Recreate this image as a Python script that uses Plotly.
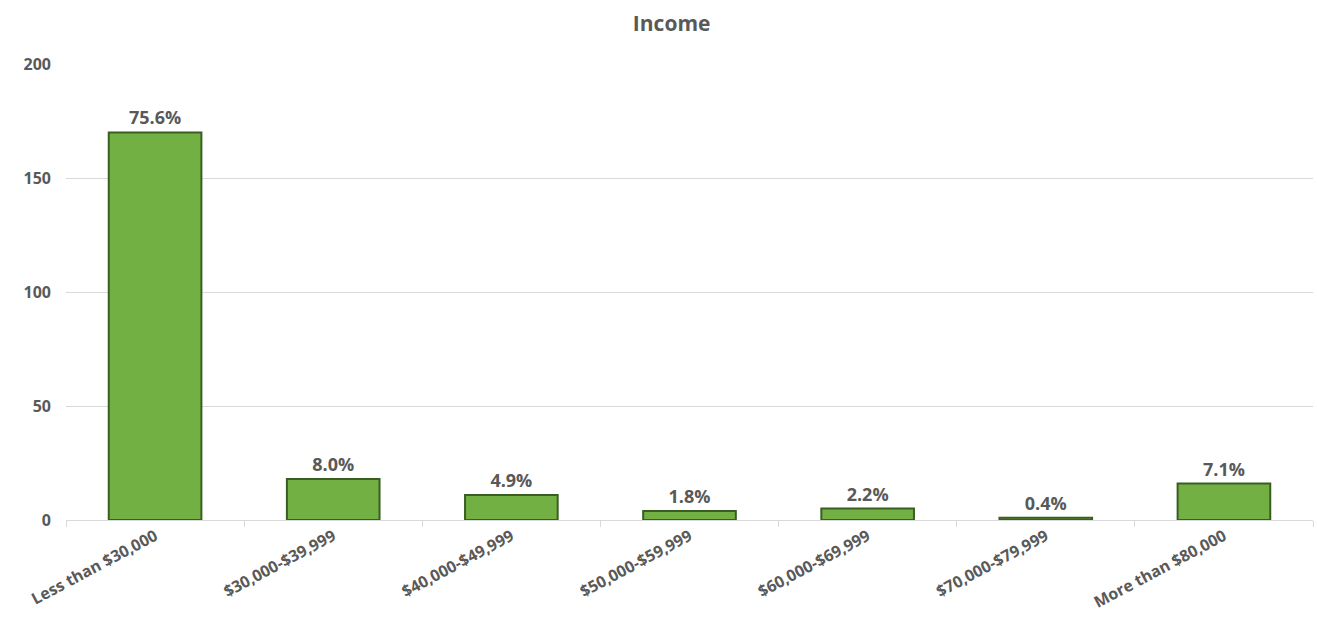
import plotly.graph_objects as go

# Household income survey responses
categories = [
    "Less than $30,000",
    "$30,000-$39,999",
    "$40,000-$49,999",
    "$50,000-$59,999",
    "$60,000-$69,999",
    "$70,000-$79,999",
    "More than $80,000",
]
counts = [170, 18, 11, 4, 5, 1, 16]
y_ticks = [0, 50, 100, 150, 200]

total = sum(counts)
pct_labels = [f"{100 * c / total:.1f}%" for c in counts]

font_family = "Open Sans, Lato, DejaVu Sans, sans-serif"
text_gray = "#595959"

fig = go.Figure()
fig.add_trace(
    go.Bar(
        x=categories,
        y=counts,
        text=pct_labels,
        textposition="outside",
        cliponaxis=False,
        textfont=dict(family=font_family, size=18, color=text_gray, weight="bold"),
        marker=dict(color="#72B043", line=dict(color="#3A5E22", width=2)),
        hoverinfo="x+y",
    )
)

fig.update_layout(
    width=1317,
    height=631,
    margin=dict(l=66, r=4, t=64, b=111),
    paper_bgcolor="white",
    plot_bgcolor="white",
    bargap=0.48,
    showlegend=False,
    title=dict(
        text="Income",
        x=0.51,
        xanchor="center",
        y=0.962,
        yanchor="middle",
        font=dict(family=font_family, size=21, color=text_gray, weight="bold"),
    ),
    xaxis=dict(
        tickangle=-28,
        tickfont=dict(family=font_family, size=16, color=text_gray, weight="bold"),
        showline=True,
        linecolor="#D9D9D9",
        linewidth=1,
        ticks="outside",
        tickson="boundaries",
        ticklen=6,
        tickcolor="#D9D9D9",
        showgrid=False,
    ),
    yaxis=dict(
        range=[0, 200],
        tickvals=y_ticks,
        tickfont=dict(family=font_family, size=16, color=text_gray, weight="bold"),
        showgrid=True,
        gridcolor="#D9D9D9",
        gridwidth=1,
        zeroline=False,
        showline=False,
        ticks="",
        ticklabelstandoff=14,
    ),
)

fig.write_html("out.html")
